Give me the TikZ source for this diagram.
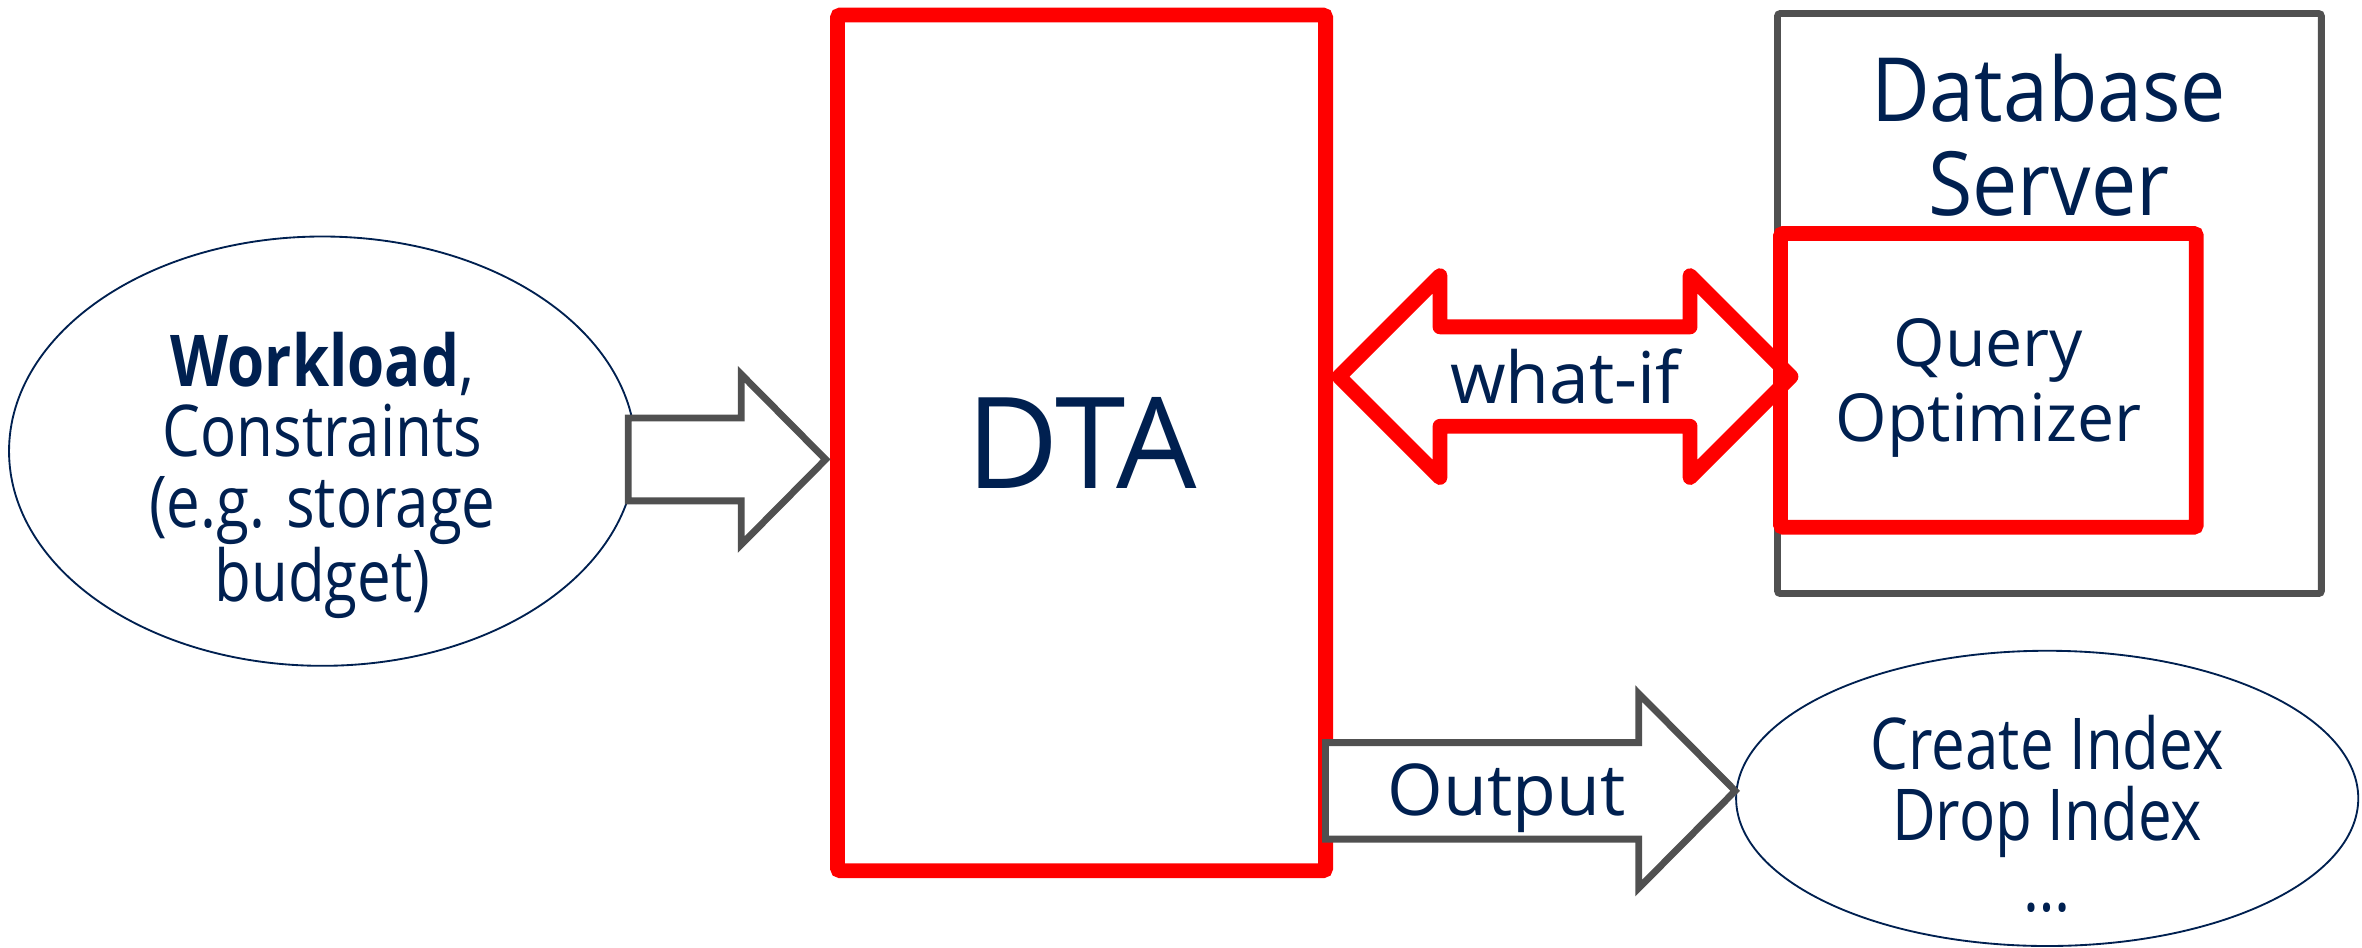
\documentclass[tikz,border=0pt]{standalone}
\usepackage{fontspec}
\setmainfont{Open Sans}
\newfontfamily\narrowfont[FakeStretch=0.84]{Open Sans}
\newfontfamily\midfont[FakeStretch=0.91]{Open Sans}
\usetikzlibrary{calc,shapes.geometric,backgrounds}
\definecolor{navy}{RGB}{0,32,80}
\definecolor{darkgrey}{RGB}{80,80,80}

\begin{document}
\begin{tikzpicture}[%
      redbox/.style={draw=red, line width=5.6pt, rounded corners=1pt, text=navy, inner sep=0pt},
      greybox/.style={draw=darkgrey, line width=2.6pt, rounded corners=1pt, inner sep=0pt},
      oval/.style={ellipse, draw=navy, line width=0.7pt, inner sep=0pt},
      label/.style={text=navy, align=center, inner sep=0pt},
      hollow/.style={draw=darkgrey, line width=2.6pt, line join=miter, fill=white},
      redarrow/.style={draw=red, line width=5.6pt, line join=round, fill=white},
      ]
      \useasboundingbox (0,0) rectangle (31.36,12.58);

      \node [oval, minimum width=8.32cm, minimum height=5.70cm] (workload) at (4.28,6.59) {};
      \node [label, font=\narrowfont\fontsize{27}{26.6}\selectfont] (workloadtext)
            at ($(workload)+(0,-0.32)$) {\textbf{Workload},\\Constraints\\(e.g. storage\\budget)};
      \node [redbox, minimum width=6.48cm, minimum height=11.36cm,
             font=\fontsize{48}{48}\selectfont] (dta) at (14.36,6.70) {DTA};
      \node [greybox, minimum width=7.22cm, minimum height=7.70cm] (server) at (27.21,8.55) {};
      \node [label, font=\midfont\fontsize{33.5}{35.5}\selectfont] (servername) at (27.20,10.78) {Database\\Server};
      \node [redbox, minimum width=5.52cm, minimum height=3.90cm] (optimizer) at (26.40,7.53) {};
      \node [label, font=\fontsize{25}{28.5}\selectfont] (optimizertext)
            at ($(optimizer)+(0,-0.10)$) {Query\\Optimizer};
      \node [oval, minimum width=8.26cm, minimum height=3.92cm] (result) at (27.18,1.98) {};
      \node [label, font=\narrowfont\fontsize{27}{26.8}\selectfont] (actions)
            at ($(result)+(0,-0.20)$) {Create Index\\Drop Index\\…};

      % input arrow
      \coordinate (tipA) at ($(dta.west)+(-0.06,-0.22)$);
      \draw [hollow] (tipA) -- ++(-1.12,1.13) -- ++(0,-0.58) -- ++(-1.50,0) -- ++(0,-1.10)
            -- ++(1.50,0) -- ++(0,-0.58) -- cycle;

      % what-if arrow, under the boxes
      \begin{scope}[on background layer]
      \coordinate (tipL) at ($(dta.east |- optimizer.west)+(0.08,0.05)$);
      \draw [redarrow] (tipL) -- ++(1.34,1.34) -- ++(0,-0.68) -- ++(3.32,0) -- ++(0,0.68)
            -- ++(1.34,-1.34) -- ++(-1.34,-1.34) -- ++(0,0.68) -- ++(-3.32,0) -- ++(0,-0.68) -- cycle;
      \end{scope}
      \node [label, font=\fontsize{27}{27}\selectfont] (whatif) at ($(tipL)+(3.00,0)$) {what-if};

      % output arrow
      \coordinate (tipB) at ($(result.west)+(0,0.10)$);
      \draw [hollow] (tipB) -- ++(-1.28,1.29) -- ++(0,-0.65) -- ++(-4.16,0) -- ++(0,-1.28)
            -- ++(4.16,0) -- ++(0,-0.65) -- cycle;
      \node [label, font=\fontsize{27}{27}\selectfont] (output) at (20.00,1.98) {Output};
\end{tikzpicture}
\end{document}
